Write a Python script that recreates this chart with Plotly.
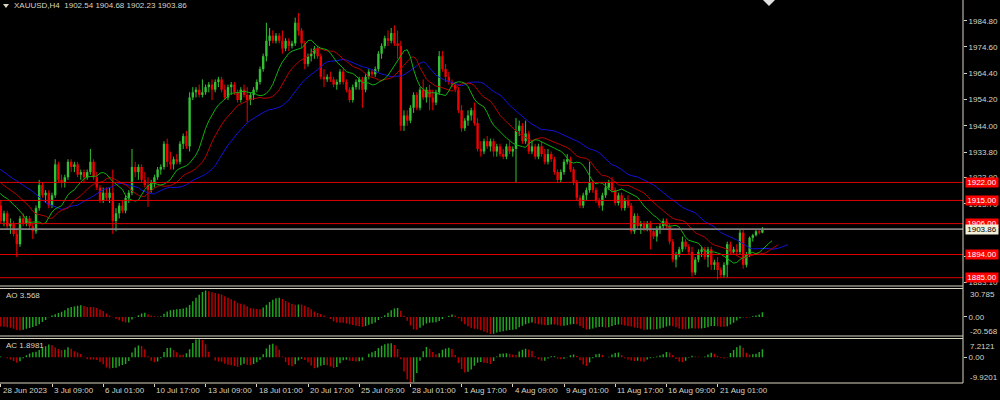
import numpy as np
import plotly.graph_objects as go

# ---------------- data (H4 candles, 28 Jun 2023 17:00 ... 23 Aug 2023 09:00) -------------
opens = [1913,1907,1910,1905,1906,1902,1898,1908,1906,1908,1905,1903,1912,1921,1917,1918,1913,1917,1929,1923,
         1922,1924,1930,1928,1929,1925,1926,1924,1926,1930,1924,1920,1915,1918,1916,1918,1907,1910,1913,1911,
         1916,1918,1928,1926,1928,1923,1921,1919,1922,1924,1927,1928,1937,1930,1929,1931,1930,1937,1940,1936,
         1955,1957,1958,1956,1957,1959,1960,1958,1961,1962,1958,1955,1959,1960,1957,1954,1958,1956,1954,1956,
         1958,1961,1966,1971,1977,1979,1977,1979,1977,1974,1977,1975,1976,1984,1981,1976,1968,1971,1972,1974,
         1971,1963,1962,1963,1962,1960,1961,1965,1961,1958,1954,1959,1961,1962,1958,1963,1965,1964,1966,1972,
         1975,1978,1977,1980,1976,1975,1944,1948,1946,1951,1956,1951,1958,1955,1958,1955,1953,1957,1971,1966,
         1963,1961,1960,1958,1950,1943,1946,1948,1950,1945,1935,1934,1938,1936,1938,1934,1936,1933,1932,1936,
         1934,1935,1942,1944,1938,1941,1934,1936,1932,1936,1933,1930,1933,1931,1926,1923,1926,1930,1931,1927,
         1922,1916,1913,1917,1919,1922,1919,1915,1913,1917,1920,1922,1919,1914,1917,1912,1915,1913,1903,1909,
         1905,1906,1904,1906,1903,1901,1904,1905,1907,1905,1899,1892,1894,1896,1899,1897,1895,1887,1892,1895,
         1896,1893,1896,1890,1891,1888,1886,1890,1898,1895,1896,1895,1902.5,1890,1894,1900.5,1901.5,1903,1902.54]
highs = [1915,1911,1911,1908,1907,1904,1909,1910,1909,1909,1906,1913,1923,1922,1919,1919,1918,1931,1930,1925,
         1925,1931,1931,1930,1930,1927,1927,1927,1935,1931,1926,1921,1920,1920,1920,1927,1912,1914,1915,1917,
         1919,1935,1930,1929,1929,1926,1924,1923,1925,1928,1929,1938,1939,1934,1932,1933,1938,1941,1942,1957,
         1959,1959,1960,1962,1960,1961,1962,1962,1963,1963,1960,1960,1961,1961,1958,1959,1960,1959,1957,1959,
         1962,1967,1972,1984,1982,1981,1980,1980,1981,1978,1978,1977,1986,1987.8,1982,1977,1972,1974,1975,1975,
         1972,1966,1964,1965,1963,1962,1966,1966,1962,1959,1960,1962,1963,1963,1964,1966,1966,1967,1973,1976,
         1979,1981,1982,1983,1981,1977,1950,1950,1952,1957,1957,1959,1962,1959,1960,1958,1958,1973,1973,1968,
         1965,1962,1961,1959,1952,1947,1950,1951,1953,1947,1938,1939,1940,1939,1939,1937,1937,1935,1937,1938,
         1936,1947,1946,1945,1946,1942,1938,1937,1937,1938,1935,1935,1934,1932,1927,1927,1931,1933,1932,1928,
         1923,1917,1918,1920,1930,1923,1920,1916,1918,1922,1923,1924,1920,1918,1918,1916,1917,1914,1910,1910,
         1907,1907,1907,1907,1904,1905,1906,1908,1908,1906,1900,1895,1897,1901,1900,1898,1897,1893,1896,1897,
         1897,1897,1897,1892,1893,1889,1891,1899,1899,1897,1898,1903.7,1904,1895,1901,1902,1903.7,1903.5,1904.68]
lows = [1906,1905,1904,1902,1901,1893,1897,1905,1905,1904,1900,1902,1911,1916,1914,1912,1912,1916,1922,1920,
        1920,1923,1926,1926,1924,1923,1922,1923,1925,1923,1919,1914,1914,1915,1914,1902,1903,1908,1910,1910,
        1914,1917,1924,1923,1922,1920,1912.5,1918,1920,1923,1925,1927,1928,1927,1927,1929,1929,1935,1935,1934,
        1954,1955,1955,1955,1956,1957,1954,1957,1959,1957,1954,1954,1956,1956,1953,1953,1955,1945.5,1952,1954,
        1957,1960,1965,1969,1975,1976,1976,1976,1972,1973,1973,1974,1975,1979,1974,1966,1967,1969,1970,1970,
        1962,1959,1961,1961,1959,1958,1960,1960,1957,1953,1953,1958,1958,1951,1957,1962,1963,1963,1965,1970,
        1974,1975,1976,1975,1970,1942,1942,1944,1945,1949,1950,1950,1954,1953,1950,1950,1952,1956,1965,1961,
        1960,1959,1957,1949,1941.7,1942,1944,1946,1944,1934,1932,1933,1935,1934,1932,1932,1932,1931,1931,1933,
        1932,1922,1940,1937,1937,1933,1933,1931,1931,1932,1929,1929,1930,1925,1922,1922,1925,1929,1926,1921,
        1915,1912,1912,1915,1918,1918,1914,1912,1911,1916,1919,1918,1913,1913,1911,1911,1912,1902,1902,1904,
        1902,1903,1903,1896,1900,1899,1902,1904,1904,1898,1891,1889,1893,1895,1896,1894,1885.5,1886,1891,1893,
        1892,1889,1888,1888,1884.3,1885,1885,1885,1894,1894,1894,1894,1888.5,1889,1893,1899,1901,1901.8,1902.23]
closes = [1907,1910,1905,1906,1902,1898,1908,1906,1908,1905,1903,1912,1921,1917,1918,1913,1917,1929,1923,1922,
          1924,1930,1928,1929,1925,1926,1924,1926,1930,1924,1920,1915,1918,1916,1918,1907,1910,1913,1911,1916,
          1918,1928,1926,1928,1923,1921,1919,1922,1924,1927,1928,1937,1930,1929,1931,1930,1937,1940,1936,1955,
          1957,1958,1956,1957,1959,1960,1958,1961,1962,1958,1955,1959,1960,1957,1954,1958,1956,1954,1956,1958,
          1961,1966,1971,1977,1979,1977,1979,1977,1974,1977,1975,1976,1984,1981,1976,1968,1971,1972,1974,1971,
          1963,1962,1963,1962,1960,1961,1965,1961,1958,1954,1959,1961,1962,1958,1963,1965,1964,1966,1972,1975,
          1978,1977,1980,1976,1975,1944,1948,1946,1951,1956,1951,1958,1955,1958,1955,1953,1957,1971,1966,1963,
          1961,1960,1958,1950,1943,1946,1948,1950,1945,1935,1934,1938,1936,1938,1934,1936,1933,1932,1936,1934,
          1935,1942,1944,1938,1941,1934,1936,1932,1936,1933,1930,1933,1931,1926,1923,1926,1930,1931,1927,1922,
          1916,1913,1917,1919,1922,1919,1915,1913,1917,1920,1922,1919,1914,1917,1912,1915,1913,1903,1909,1905,
          1906,1904,1906,1903,1901,1904,1905,1907,1905,1899,1892,1894,1896,1899,1897,1895,1887,1892,1895,1896,
          1893,1896,1890,1891,1888,1886,1890,1898,1895,1896,1895,1902.5,1890,1894,1900.5,1901.5,1903,1902.54,1903.86]
# median prices of the 40 H4 bars before the first visible one (20-28 Jun), used only for the indicators
pre_median = [1945,1942,1938,1936,1935,1934, 1934,1933,1935,1932,1930,1932,
              1931,1929,1925,1917,1914,1914, 1916,1919,1924,1927,1928,1925,
              1924,1927,1930,1932,1931,1928, 1925,1924,1920,1915,1913,1914,
              1913,1914,1912,1913]
level_lines = [1922.00, 1915.00, 1906.00, 1894.00, 1885.00]
price_ticks = [1984.80, 1974.60, 1964.40, 1954.20, 1944.00, 1933.80, 1923.90, 1913.70, 1893.30, 1883.10]
time_labels = ["28 Jun 2023", "3 Jul 09:00", "6 Jul 01:00", "10 Jul 17:00", "13 Jul 09:00", "18 Jul 01:00",
               "20 Jul 17:00", "25 Jul 09:00", "28 Jul 01:00", "1 Aug 17:00", "4 Aug 09:00", "9 Aug 01:00",
               "11 Aug 17:00", "16 Aug 09:00", "21 Aug 01:00"]
bars_per_label = 16
title_text = "XAUUSD,H4  1902.54 1904.68 1902.23 1903.86"
ao_text, ao_max, ao_min = "AO 3.568", 30.785, -20.568
ac_text, ac_max, ac_min = "AC 1.8981", 7.2121, -9.9201

# ---------------- indicators ----------------
O, H, L, C = (np.array(a, dtype=float) for a in (opens, highs, lows, closes))
n = len(C)
npre = len(pre_median)
med = np.concatenate([np.array(pre_median, float), (H + L) / 2])
full_x = np.arange(-npre, n)


def smma(x, p):
    out = np.full(len(x), np.nan)
    out[p - 1] = x[:p].mean()
    for i in range(p, len(x)):
        out[i] = (out[i - 1] * (p - 1) + x[i]) / p
    return out


def sma(x, p):
    out = np.full(len(x), np.nan)
    for i in range(p - 1, len(x)):
        out[i] = np.mean(x[i - p + 1:i + 1])
    return out


ao_full = sma(med, 5) - sma(med, 34)
ac_full = ao_full - sma(ao_full, 5)
ao = ao_full[npre:]
ac = ac_full[npre:]
ao_prev = ao_full[npre - 1:-1]
ac_prev = ac_full[npre - 1:-1]
GREEN_H, RED_H = "#22a822", "#c00000"
ao_col = [GREEN_H if a > b else RED_H for a, b in zip(ao, ao_prev)]
ac_col = [GREEN_H if a > b else RED_H for a, b in zip(ac, ac_prev)]

# ---------------- geometry (pixels) ----------------
W, Hh = 1000, 400
PLOT_R = 963          # right edge of plotting area
PLOT_B = 383          # bottom of plotting area
def py(y):            # page pixel -> paper y
    return (PLOT_B - y) / PLOT_B
def px(x):
    return x / PLOT_R

MAIN_TOP, MAIN_BOT = 0, 286
AO_TOP, AO_BOT = 288.5, 336
AC_TOP, AC_BOT = 338.5, 383
PX_PER_PRICE = 2.575
P_TOP = 1992.84
P_BOT = P_TOP - (MAIN_BOT - MAIN_TOP) / PX_PER_PRICE
BAR_PX = 3.2
X0 = -0.8 / BAR_PX
X1 = X0 + PLOT_R / BAR_PX

FG = "#d8d4c2"
FONT = "Liberation Sans"
BULL, BEAR = "#34c034", "#f00000"

fig = go.Figure()

# candles: wicks then bodies
idx = np.arange(n)
for up, col in ((True, BULL), (False, BEAR)):
    xs, ys = [], []
    for i in idx:
        if (C[i] >= O[i]) == up:
            xs += [i, i, None]
            ys += [L[i], H[i], None]
    fig.add_trace(go.Scatter(x=xs, y=ys, mode="lines", line=dict(color=col, width=1),
                             hoverinfo="skip", xaxis="x", yaxis="y"))
body_base = np.minimum(O, C)
body_h = np.maximum(np.abs(C - O), 0.3)
fig.add_trace(go.Bar(x=idx, y=body_h, base=body_base, width=0.75,
                     marker=dict(color=[BULL if c >= o else BEAR for o, c in zip(O, C)], line=dict(width=0)),
                     xaxis="x", yaxis="y"))

# Alligator (median price, SMMA 13/8/5 shifted 8/5/3)
for p, shift, col in ((13, 8, "#1212d8"), (8, 5, "#b80000"), (5, 3, "#10b010")):
    vals = smma(med, p)
    xs = full_x + shift
    m = (xs >= -2) & ~np.isnan(vals)
    fig.add_trace(go.Scatter(x=xs[m], y=vals[m], mode="lines", line=dict(color=col, width=1),
                             hoverinfo="skip", xaxis="x", yaxis="y"))

# AO and AC histograms
fig.add_trace(go.Bar(x=idx, y=ao, width=0.45, marker=dict(color=ao_col, line=dict(width=0)),
                     xaxis="x", yaxis="y2"))
fig.add_trace(go.Bar(x=idx, y=ac, width=0.45, marker=dict(color=ac_col, line=dict(width=0)),
                     xaxis="x", yaxis="y3"))

shapes = []
for lv in level_lines:
    shapes.append(dict(type="line", xref="paper", yref="y", x0=0, x1=1, y0=lv, y1=lv,
                       line=dict(color="#e00000", width=1)))
shapes.append(dict(type="line", xref="paper", yref="y", x0=0, x1=1, y0=C[-1], y1=C[-1],
                   line=dict(color="#808080", width=1.6)))
for yy in (MAIN_BOT, AO_TOP, AO_BOT, AC_TOP, AC_BOT):
    shapes.append(dict(type="line", xref="paper", yref="paper", x0=0, x1=1, y0=py(yy), y1=py(yy),
                       line=dict(color=FG, width=1)))
shapes.append(dict(type="line", xref="paper", yref="paper", x0=1, x1=1, y0=0, y1=1,
                   line=dict(color=FG, width=1)))
# small triangles (title marker, chart-shift marker)
def tri(x0, x1, y0, y1, col):
    xm = (x0 + x1) / 2
    return dict(type="path", xref="paper", yref="paper",
                path=f"M {px(x0)},{py(y0)} L {px(x1)},{py(y0)} L {px(xm)},{py(y1)} Z",
                fillcolor=col, line=dict(width=0))
shapes.append(tri(3, 9, 4, 8, FG))
shapes.append(tri(763, 775, 0, 6, "#e0e0e0"))

ann = []
ann.append(dict(text=title_text, xref="paper", yref="paper", x=px(12), y=py(6), xanchor="left",
                yanchor="middle", showarrow=False, font=dict(size=8, color=FG, family=FONT)))
ann.append(dict(text=ao_text, xref="paper", yref="paper", x=px(4), y=py(295.5), xanchor="left",
                yanchor="middle", showarrow=False, font=dict(size=8, color=FG, family=FONT)))
ann.append(dict(text=ac_text, xref="paper", yref="paper", x=px(4), y=py(345), xanchor="left",
                yanchor="middle", showarrow=False, font=dict(size=8, color=FG, family=FONT)))
for txt, yy in ((f"{ao_max:.3f}", 294), (f"{ao_min:.3f}", 331), (f"{ac_max:.4f}", 346), (f"{ac_min:.4f}", 377.5)):
    ann.append(dict(text=txt, xref="paper", yref="paper", x=px(968), y=py(yy), xanchor="left",
                    yanchor="middle", showarrow=False, font=dict(size=8, color=FG, family=FONT)))
for k, lab in enumerate(time_labels):
    ann.append(dict(text=lab, xref="x", yref="paper", x=k * bars_per_label, y=py(390.5), xanchor="left",
                    xshift=0, yanchor="middle", showarrow=False, font=dict(size=8, color=FG, family=FONT)))
for lv in level_lines:
    ann.append(dict(text=f"{lv:.2f}", xref="paper", yref="y", x=px(965), y=lv, xanchor="left",
                    yanchor="middle", showarrow=False, bgcolor="#ff0000", width=32, height=9, borderpad=0,
                    font=dict(size=8, color="#ffffff", family=FONT)))
ann.append(dict(text=f"{C[-1]:.2f}", xref="paper", yref="y", x=px(965), y=C[-1], xanchor="left",
                yanchor="middle", showarrow=False, bgcolor="#f2eed8", width=32, height=9, borderpad=0,
                font=dict(size=8, color="#000000", family=FONT)))

axis_common = dict(showgrid=False, zeroline=False, ticks="outside", ticklen=3, tickcolor=FG,
                   tickfont=dict(size=8, color=FG, family=FONT), fixedrange=True)
fig.update_layout(
    width=W, height=Hh, margin=dict(l=0, r=W - PLOT_R, t=0, b=Hh - PLOT_B),
    paper_bgcolor="#000000", plot_bgcolor="#000000", showlegend=False, barmode="overlay",
    hovermode=False,
    xaxis=dict(range=[X0, X1], domain=[0, 1], anchor="y3", showgrid=False, zeroline=False,
               tickvals=[k * bars_per_label for k in range(len(time_labels))], ticks="outside",
               ticklen=3, tickcolor=FG, showticklabels=False, showline=False, fixedrange=True),
    yaxis=dict(domain=[py(MAIN_BOT), py(MAIN_TOP)], range=[P_BOT, P_TOP], side="right", anchor="x",
               tickvals=price_ticks, ticktext=[f"{v:.2f}" for v in price_ticks], **axis_common),
    yaxis2=dict(domain=[py(AO_BOT), py(AO_TOP)], range=[ao_min, ao_max], side="right", anchor="x",
                tickvals=[0], ticktext=["0.00"], **axis_common),
    yaxis3=dict(domain=[py(AC_BOT), py(AC_TOP)], range=[ac_min, ac_max], side="right", anchor="x",
                tickvals=[0], ticktext=["0.00"], **axis_common),
    shapes=shapes, annotations=ann,
)
fig.write_html("out.html", config={"displayModeBar": False, "staticPlot": True},
               post_script="document.body.style.margin='0';document.body.style.padding='0';"
                           "document.body.style.background='#000';")
